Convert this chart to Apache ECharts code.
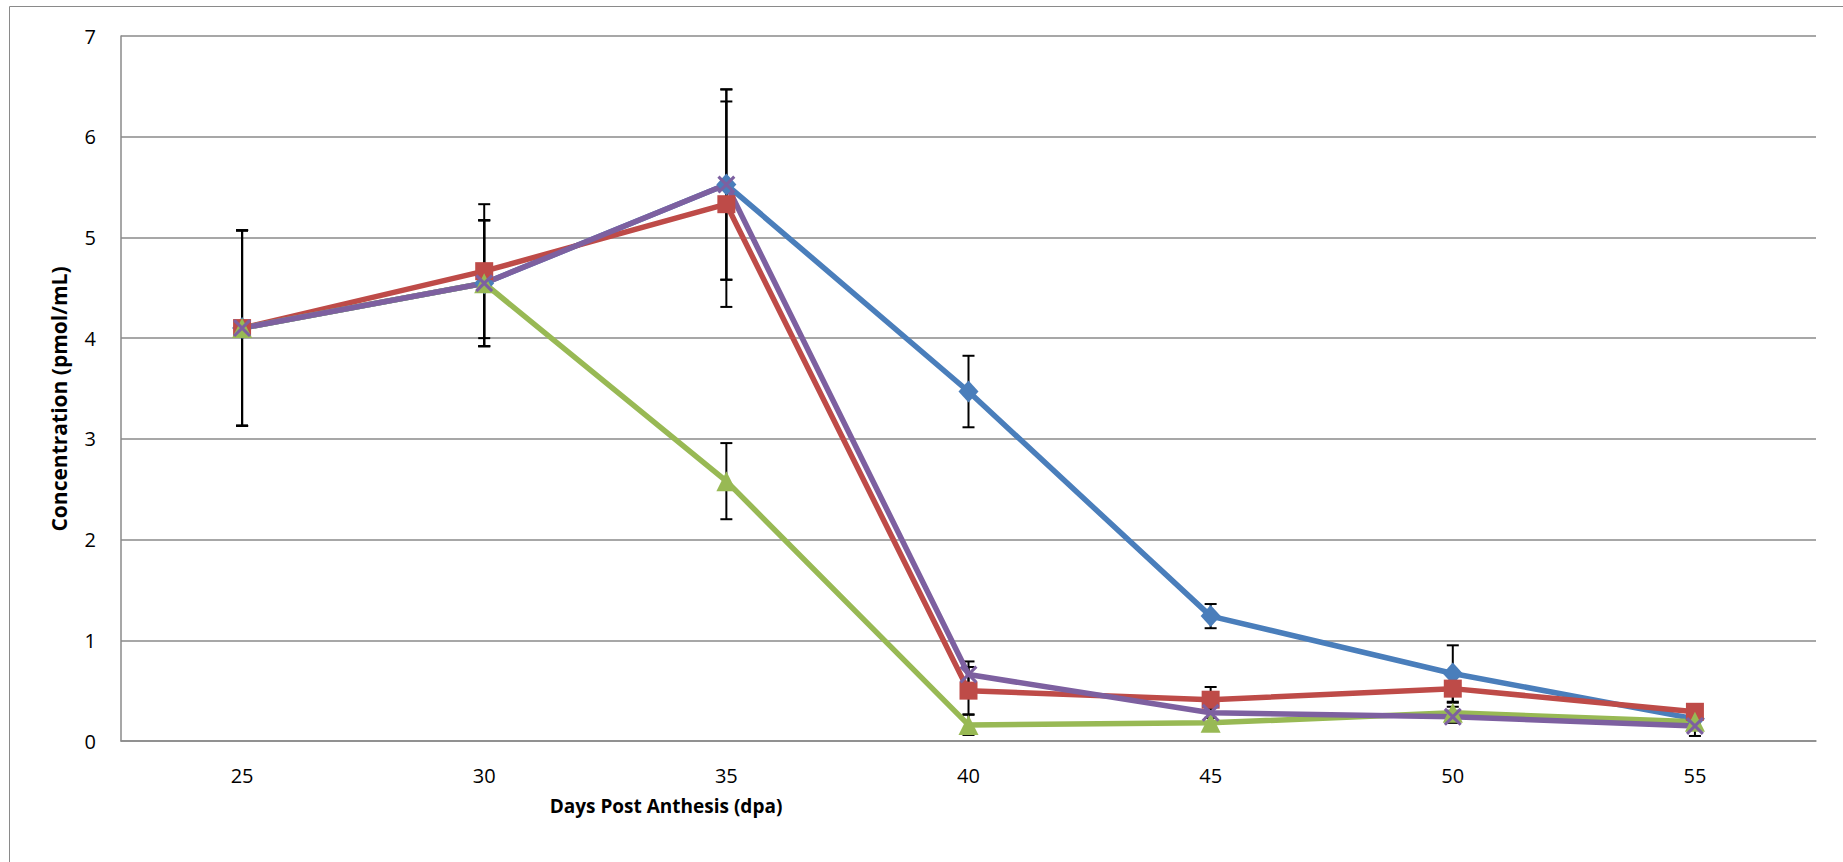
<!DOCTYPE html>
<html>
<head>
<meta charset="utf-8">
<title>Concentration by Days Post Anthesis</title>
<script src="https://cdn.jsdelivr.net/npm/echarts/dist/echarts.min.js"></script>
<style>
  html, body { margin: 0; padding: 0; background: #ffffff; }
  #chart { width: 1843px; height: 862px; }
</style>
</head>
<body>
<div id="chart"></div>
<script>
// Sampling days (dpa)
const days = ['25', '30', '35', '40', '45', '50', '55'];

// Mean concentration (pmol/mL) per treatment
const blueValues   = [4.10, 4.545, 5.525, 3.47, 1.24, 0.67, 0.22];
const redValues    = [4.10, 4.665, 5.33, 0.50, 0.41, 0.52, 0.29];
const greenValues  = [4.10, 4.545, 2.58, 0.16, 0.18, 0.28, 0.19];
const purpleValues = [4.10, 4.545, 5.525, 0.66, 0.28, 0.24, 0.15];

// Error (± value) per point
const blueErrors   = [0.97, 0.625, 0.945, 0.355, 0.12, 0.28, 0.05];
const redErrors    = [0.97, 0.665, 1.02, 0.235, 0.126, 0.14, 0.05];
const greenErrors  = [0.97, 0.625, 0.378, 0.10, 0.05, 0.06, 0.05];
const purpleErrors = [0.97, 0.625, 0.945, 0.13, 0.05, 0.06, 0.10];

// Y axis range
const yMin = 0, yMax = 7, yStep = 1;

const palette = {
  blue: '#4a7ebb',
  red: '#be4b48',
  green: '#98b954',
  purple: '#7d60a0'
};

const crossPath = 'path://M0,1.2L1.2,0L10,8.8L8.8,10Z M8.8,0L10,1.2L1.2,10L0,8.8Z';

function errorData(values, errors) {
  return values.map((v, i) => [i, v - errors[i], v + errors[i]]);
}

function errorSeries(values, errors) {
  return {
    type: 'custom',
    z: 1,
    silent: true,
    data: errorData(values, errors),
    renderItem: function (params, api) {
      const lo = api.coord([api.value(0), api.value(1)]);
      const hi = api.coord([api.value(0), api.value(2)]);
      const half = 6;
      const style = { stroke: '#000000', lineWidth: 2, fill: null };
      return {
        type: 'group',
        children: [
          { type: 'line', shape: { x1: hi[0], y1: hi[1], x2: lo[0], y2: lo[1] }, style: style },
          { type: 'line', shape: { x1: hi[0] - half, y1: hi[1], x2: hi[0] + half, y2: hi[1] }, style: style },
          { type: 'line', shape: { x1: lo[0] - half, y1: lo[1], x2: lo[0] + half, y2: lo[1] }, style: style }
        ]
      };
    }
  };
}

function lineSeries(name, values, color, symbol, size) {
  return {
    name: name,
    type: 'line',
    z: 2,
    data: values,
    symbol: symbol,
    symbolSize: size,
    showSymbol: true,
    showAllSymbol: true,
    lineStyle: { color: color, width: 5.5 },
    itemStyle: { color: color, borderWidth: 0 }
  };
}

const chart = echarts.init(document.getElementById('chart'), null, { renderer: 'svg' });

chart.setOption({
  animation: false,
  backgroundColor: '#ffffff',
  textStyle: { fontFamily: 'Open Sans' },
  grid: { left: 121, right: 27, top: 36, bottom: 121, containLabel: false },
  xAxis: {
    type: 'category',
    data: days,
    boundaryGap: true,
    axisLine: { show: true, lineStyle: { color: '#8a8a8a', width: 1.5 } },
    axisTick: { show: false },
    axisLabel: { color: '#000000', fontSize: 20, fontFamily: 'Open Sans', margin: 24 },
    splitLine: { show: false }
  },
  yAxis: {
    type: 'value',
    min: yMin,
    max: yMax,
    interval: yStep,
    axisLine: { show: true, lineStyle: { color: '#8a8a8a', width: 1.5 } },
    axisTick: { show: false },
    axisLabel: { color: '#000000', fontSize: 20, fontFamily: 'Open Sans', margin: 25 },
    splitLine: { show: true, lineStyle: { color: '#8a8a8a', width: 1.5 } }
  },
  graphic: [
    {
      type: 'rect',
      silent: true,
      shape: { x: 9.5, y: 6.5, width: 1900, height: 900 },
      style: { fill: null, stroke: '#8a8a8a', lineWidth: 1 }
    },
    {
      type: 'text',
      x: 59,
      y: 399,
      rotation: Math.PI / 2,
      style: {
        text: 'Concentration (pmol/mL)',
        font: 'bold 21px "Open Sans"',
        fill: '#000000',
        align: 'center',
        verticalAlign: 'middle'
      }
    },
    {
      type: 'text',
      x: 666,
      y: 806,
      style: {
        text: 'Days Post Anthesis (dpa)',
        font: 'bold 19px "Open Sans"',
        fill: '#000000',
        align: 'center',
        verticalAlign: 'middle'
      }
    }
  ],
  series: [
    errorSeries(blueValues, blueErrors),
    errorSeries(redValues, redErrors),
    errorSeries(greenValues, greenErrors),
    errorSeries(purpleValues, purpleErrors),
    lineSeries('Series 1', blueValues, palette.blue, 'diamond', [20, 22]),
    lineSeries('Series 2', redValues, palette.red, 'rect', 18),
    lineSeries('Series 3', greenValues, palette.green, 'triangle', 20),
    lineSeries('Series 4', purpleValues, palette.purple, crossPath, 18)
  ]
});
</script>
</body>
</html>
